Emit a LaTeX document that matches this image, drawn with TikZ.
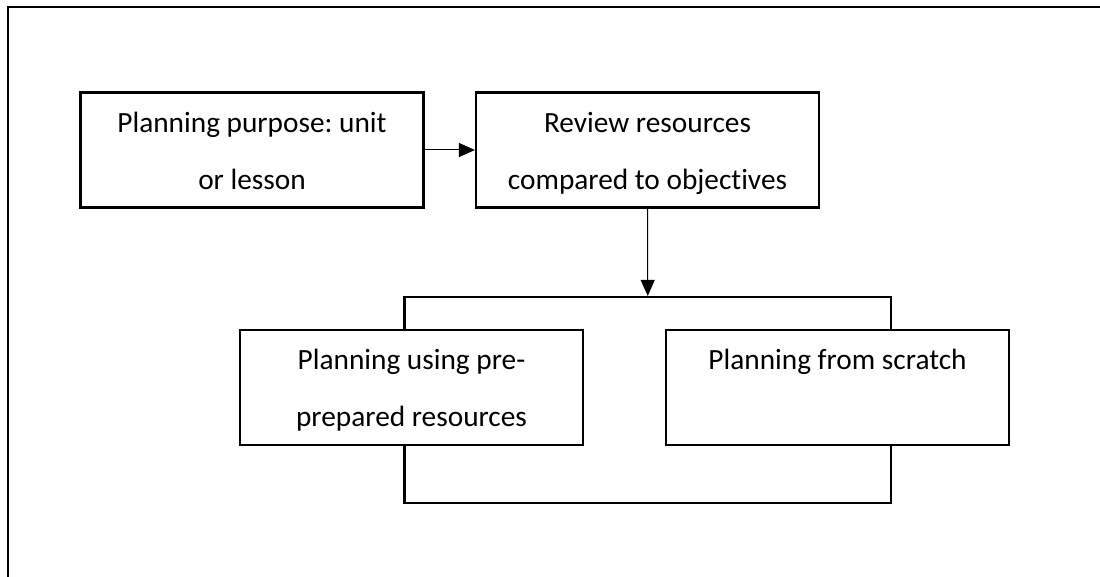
\documentclass[tikz,border=0pt]{standalone}
\usepackage{fontspec}
\setmainfont{Carlito}[Ligatures={NoCommon}]
\usetikzlibrary{arrows.meta,calc}
\begin{document}
\frenchspacing
\begin{tikzpicture}[x=0.75pt,y=-0.75pt,
  box/.style={draw, line width=1.6pt, fill=white, minimum width=257.25pt, minimum height=86.25pt, inner sep=0pt},
  txt/.style={anchor=base, inner sep=0pt, font=\fontsize{22}{42.75}\selectfont},
  link/.style={line width=0.75pt, -{Triangle[length=12pt,width=10.5pt]}},
  rail/.style={line width=1.6pt}]
\useasboundingbox (0,0) rectangle (1100,577);
\draw[rail] (8,577) -- (8,7) -- (1100,7);
\node[rail, draw, minimum width=364.9pt, minimum height=154.5pt, inner sep=0pt] (br) at (647.75,400) {};
\node[box] (b1) at (252,150) {};
\node[box] (b2) at (647.5,150) {};
\node[box] (b3) at (411.5,387.5) {};
\node[box] (b4) at (837.5,387.5) {};
\node[txt] (t1) at ($(b1.north)+(0,41)$) {\begin{tabular}[t]{@{}c@{}}Planning purpose: unit\\or lesson\end{tabular}};
\node[txt] (t2) at ($(b2.north)+(0,41)$) {\begin{tabular}[t]{@{}c@{}}Review resources\\compared to objectives\end{tabular}};
\node[txt] (t3) at ($(b3.north)+(0,41)$) {\begin{tabular}[t]{@{}c@{}}Planning using pre-\\prepared resources\end{tabular}};
\node[txt] (t4) at ($(b4.north)+(0,41)$) {Planning from scratch};
\draw[link] (b1.east) -- (b2.west);
\draw[link] (b2.south) -- (br.north);
\end{tikzpicture}
\end{document}
